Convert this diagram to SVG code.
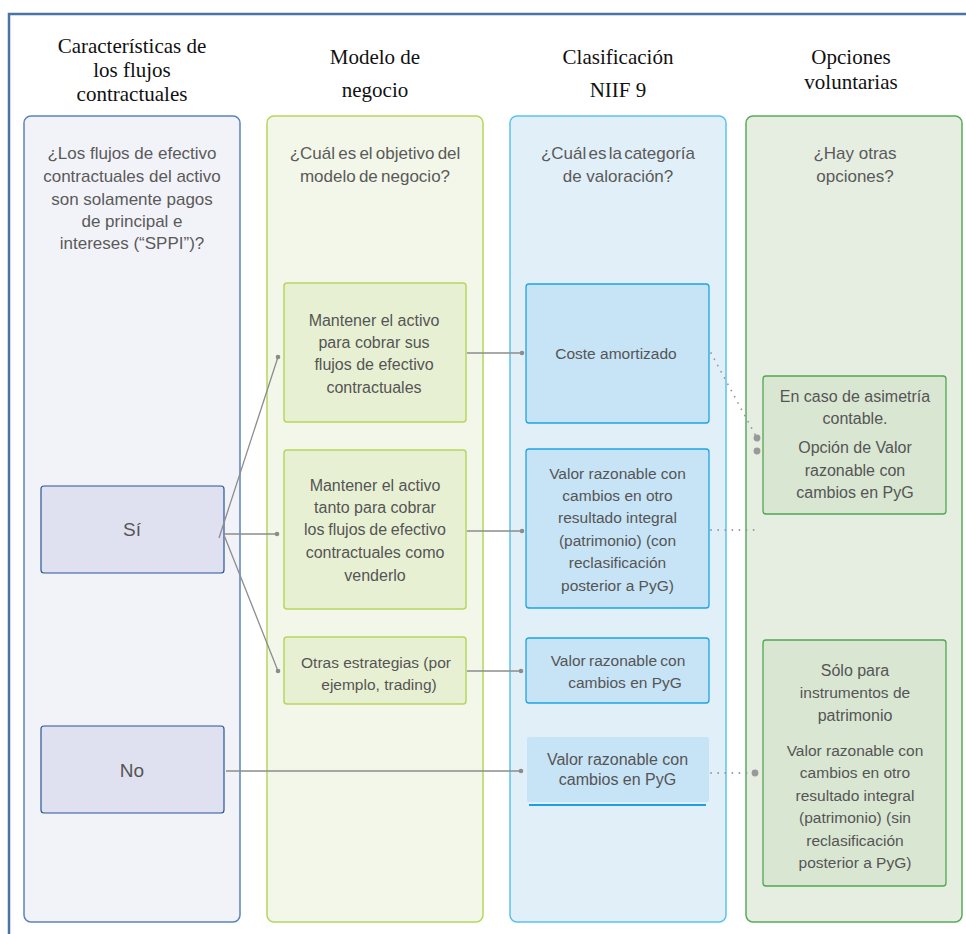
<svg xmlns="http://www.w3.org/2000/svg" width="966" height="934" viewBox="0 0 966 934">
<defs>
<style>
.hd{font-family:"Liberation Serif","Times New Roman",serif;font-size:21px;fill:#111;text-anchor:middle}
.q{font-family:"Liberation Sans",Arial,sans-serif;font-size:17px;fill:#5a5a5a;text-anchor:middle}
.t{font-family:"Liberation Sans",Arial,sans-serif;font-size:16px;fill:#555;text-anchor:middle}
.t2{font-family:"Liberation Sans",Arial,sans-serif;font-size:15.5px;fill:#555;text-anchor:middle}
.big{font-family:"Liberation Sans",Arial,sans-serif;font-size:19px;fill:#555;text-anchor:middle}
.c1{fill:#f2f3f9;stroke:#5b83bd;stroke-width:1.5}
.c2{fill:#f3f7e9;stroke:#b6d65c;stroke-width:1.5}
.c3{fill:#e1eff9;stroke:#5bc2ef;stroke-width:1.5}
.c4{fill:#e6ede1;stroke:#5aaa5a;stroke-width:1.5}
.n1{fill:#dfe1f1;stroke:#2c5596;stroke-width:1.2}
.n2{fill:#e8f0d3;stroke:#b6d65c;stroke-width:1.5}
.n3{fill:#c7e3f6;stroke:#1da5e3;stroke-width:1.3}
.n4{fill:#d9e6d2;stroke:#4fa84f;stroke-width:1.3}
.ln{fill:none;stroke:#8c8c8c;stroke-width:1.3}
.dt{fill:none;stroke:#9a9a9a;stroke-width:1.8;stroke-dasharray:0.1 7;stroke-linecap:round}
.dot{fill:#8c8c8c}
.bdot{fill:#999}
</style>
</defs>
<rect width="966" height="934" fill="#ffffff"/>
<rect x="9" y="14" width="990" height="960" fill="none" stroke="#4a74a6" stroke-width="2.5"/>

<g id="col1">
<rect class="c1" x="24" y="116" width="216" height="806" rx="7"/>
<text class="hd" x="132" y="53">Características de</text>
<text class="hd" x="132" y="77">los flujos</text>
<text class="hd" x="132" y="101">contractuales</text>
<text class="q" x="132" y="159">¿Los flujos de efectivo</text>
<text class="q" x="132" y="182">contractuales del activo</text>
<text class="q" x="132" y="205">son solamente pagos</text>
<text class="q" x="132" y="227">de principal e</text>
<text class="q" x="132" y="249">intereses (“SPPI”)?</text>
</g>
<g id="col2">
<rect class="c2" x="267" y="116" width="216" height="806" rx="7"/>
<text class="hd" x="375" y="64">Modelo de</text>
<text class="hd" x="375" y="97">negocio</text>
<text class="q" x="375" y="159" word-spacing="-1.5">¿Cuál es el objetivo del</text>
<text class="q" x="375" y="182" word-spacing="-1.5">modelo de negocio?</text>
</g>
<g id="col3">
<rect class="c3" x="510" y="116" width="216" height="806" rx="7"/>
<text class="hd" x="618" y="64">Clasificación</text>
<text class="hd" x="618" y="97">NIIF 9</text>
<text class="q" x="618" y="159" word-spacing="-2.5">¿Cuál es la categoría</text>
<text class="q" x="618" y="182">de valoración?</text>
</g>
<g id="col4">
<rect class="c4" x="746" y="116" width="216" height="806" rx="7"/>
<text class="hd" x="851" y="64">Opciones</text>
<text class="hd" x="851" y="89">voluntarias</text>
<text class="q" x="855" y="159">¿Hay otras</text>
<text class="q" x="855" y="182">opciones?</text>
</g>

<g id="si">
<rect class="n1" x="41" y="486" width="183" height="87" rx="3"/>
<text class="big" x="132" y="536">Sí</text>
</g>
<g id="no">
<rect class="n1" x="41" y="726" width="183" height="87" rx="3"/>
<text class="big" x="132" y="777">No</text>
</g>

<g id="m1">
<rect class="n2" x="284" y="283" width="182" height="139" rx="3"/>
<text class="t" x="374" y="326">Mantener el activo</text>
<text class="t" x="374" y="348">para cobrar sus</text>
<text class="t" x="374" y="370">flujos de efectivo</text>
<text class="t" x="374" y="393">contractuales</text>
</g>
<g id="m2">
<rect class="n2" x="284" y="450" width="182" height="159" rx="3"/>
<text class="t" x="375" y="491" font-size="16.5">Mantener el activo</text>
<text class="t" x="375" y="513">tanto para cobrar</text>
<text class="t" x="375" y="535" word-spacing="-0.7">los flujos de efectivo</text>
<text class="t" x="375" y="558">contractuales como</text>
<text class="t" x="375" y="581">venderlo</text>
</g>
<g id="m3">
<rect class="n2" x="284" y="637" width="182" height="67" rx="3"/>
<text class="t2" x="376" y="668">Otras estrategias (por</text>
<text class="t2" x="379" y="690">ejemplo, trading)</text>
</g>

<g id="k1">
<rect class="n3" x="526" y="284" width="183" height="139" rx="3"/>
<text class="t2" x="616" y="359">Coste amortizado</text>
</g>
<g id="k2">
<rect class="n3" x="526" y="449" width="183" height="159" rx="3"/>
<text class="t2" x="617.5" y="479">Valor razonable con</text>
<text class="t2" x="617.5" y="501">cambios en otro</text>
<text class="t2" x="617.5" y="523">resultado integral</text>
<text class="t2" x="617.5" y="546">(patrimonio) (con</text>
<text class="t2" x="617.5" y="568">reclasificación</text>
<text class="t2" x="617.5" y="591">posterior a PyG)</text>
</g>
<g id="k3">
<rect class="n3" x="526" y="638" width="183" height="65" rx="3"/>
<text class="t2" x="618" y="666" word-spacing="-1">Valor razonable con</text>
<text class="t2" x="625" y="688">cambios en PyG</text>
</g>
<g id="k4">
<rect x="527" y="737" width="182" height="65" rx="2" fill="#c7e3f6"/>
<line x1="529" y1="805" x2="706" y2="805" stroke="#1ba1e2" stroke-width="2.2"/>
<text class="t" x="617.5" y="765" font-size="17.2">Valor razonable con</text>
<text class="t" x="617.5" y="785" font-size="17.2">cambios en PyG</text>
</g>

<g id="o1">
<rect class="n4" x="763" y="376" width="183" height="138" rx="3"/>
<text class="t" x="855" y="402" font-size="16.4">En caso de asimetría</text>
<text class="t" x="855" y="424" font-size="16.4">contable.</text>
<text class="t" x="855" y="453" font-size="16.4">Opción de Valor</text>
<text class="t" x="855" y="476" font-size="16.4">razonable con</text>
<text class="t" x="855" y="498" font-size="16.4">cambios en PyG</text>
</g>
<g id="o2">
<rect class="n4" x="763" y="640" width="183" height="246" rx="3"/>
<text class="t" x="855" y="676" font-size="16.4">Sólo para</text>
<text class="t2" x="855" y="698">instrumentos de</text>
<text class="t" x="855" y="721" font-size="16.4">patrimonio</text>
<text class="t2" x="855" y="756">Valor razonable con</text>
<text class="t2" x="855" y="778">cambios en otro</text>
<text class="t2" x="855" y="801">resultado integral</text>
<text class="t2" x="855" y="823">(patrimonio) (sin</text>
<text class="t2" x="855" y="846">reclasificación</text>
<text class="t2" x="855" y="868">posterior a PyG)</text>
</g>

<g id="connectors">
<path class="ln" d="M219 538 L278 357"/>
<circle class="dot" cx="278" cy="357" r="2.3"/>
<path class="ln" d="M224 534 L277 534"/>
<circle class="dot" cx="277" cy="534" r="2.3"/>
<path class="ln" d="M224 535 L278 671"/>
<circle class="dot" cx="278" cy="671" r="2.3"/>
<path class="ln" d="M467 353 L522 353"/>
<circle class="dot" cx="522" cy="353" r="2.3"/>
<path class="ln" d="M467 531 L522 531"/>
<circle class="dot" cx="522" cy="531" r="2.3"/>
<path class="ln" d="M467 671 L521 671"/>
<circle class="dot" cx="521" cy="671" r="2.3"/>
<path class="ln" d="M226 771 L521 771"/>
<circle class="dot" cx="521" cy="771" r="2.3"/>
<path class="dt" d="M711 353 L757 438"/>
<circle class="bdot" cx="757" cy="438" r="3.4"/>
<circle class="bdot" cx="757" cy="451" r="3.4"/>
<path class="dt" d="M711 530 L757 530"/>
<path class="dt" d="M711 773 L755 773"/>
<circle class="bdot" cx="755" cy="773" r="3.4"/>
</g>
</svg>
